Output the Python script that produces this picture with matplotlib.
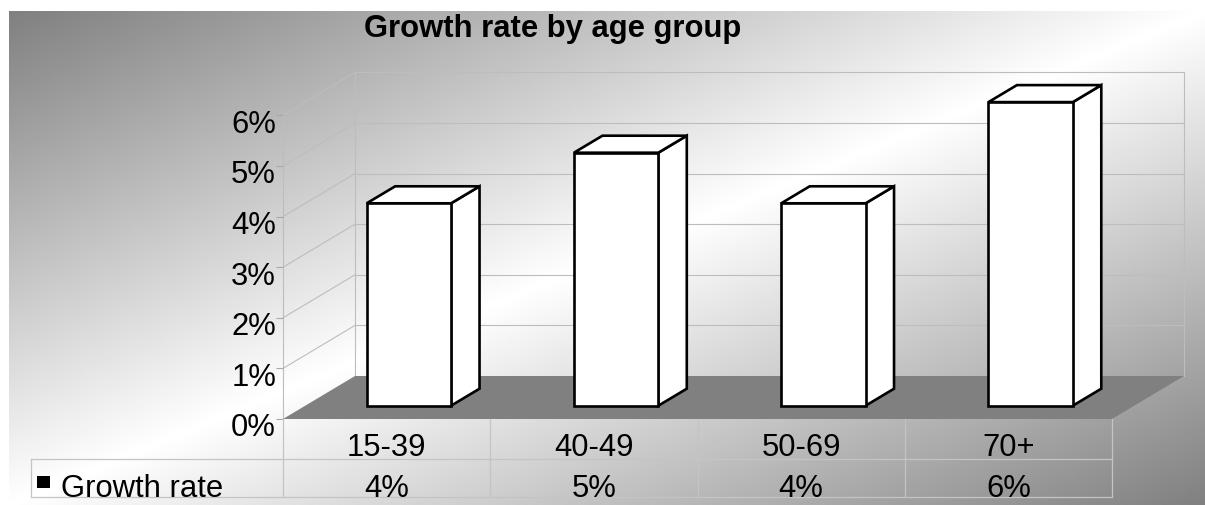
import numpy as np
import matplotlib
matplotlib.use('Agg')
import matplotlib.pyplot as plt
from matplotlib.patches import Polygon, Rectangle
from matplotlib.transforms import ScaledTranslation

# ---------------- data ----------------
categories = ["15-39", "40-49", "50-69", "70+"]
growth_rate = [4, 5, 4, 6]
series_name = "Growth rate"
title = "Growth rate by age group"
y_ticks = [0, 1, 2, 3, 4, 5, 6]
y_tick_labels = ["0%", "1%", "2%", "3%", "4%", "5%", "6%"]
value_labels = [f"{v}%" for v in growth_rate]

plt.rcParams['font.family'] = ['Liberation Sans', 'DejaVu Sans']
FS = 22.3

W, H = 1205, 506
fig = plt.figure(figsize=(W / 100, H / 100), dpi=100)
fig.patch.set_facecolor('white')

# ---------------- background gradient ----------------
bg = fig.add_axes([0, 0, 1, 1], zorder=-10)
bg.set_xlim(0, W)
bg.set_ylim(H, 0)
bg.axis('off')
u = np.linspace(0, 1, 800)
v = np.linspace(0, 1, 400)
U, V = np.meshgrid(u, v)
t = (U + V) / 2
g = (128 + 127 * (1 - np.abs(2 * t - 1))) / 255
bg.imshow(g, cmap='gray', vmin=0, vmax=1, extent=(9, W, H, 12),
          aspect='auto', interpolation='bilinear')

# ---------------- main (front plane) axes ----------------
FX0, FX1, FY0, FYT = 283, 1112, 420, 116.4
ax = fig.add_axes([FX0 / W, 1 - FY0 / H, (FX1 - FX0) / W, (FY0 - FYT) / H])
n = len(categories)
ymax = max(y_ticks)
ax.set_xlim(-0.5, n - 0.5)
ax.set_ylim(0, ymax)
ax.patch.set_visible(False)
for s in ax.spines.values():
    s.set_visible(False)
ax.set_xticks([])
ax.set_yticks(y_ticks)
ax.set_yticklabels([])
ax.tick_params(axis='y', length=5, width=0.8, color='#a8a8a8')

inv = ax.transData.inverted()


def px2data(xp, yp):
    """figure pixel (top-left origin) -> data coords of ax"""
    return inv.transform((xp, H - yp))


o = px2data(0, 0)
DX, DY = px2data(72, -43) - o          # depth vector of the 3D box
F_FRONT, F_BACK = 13.3 / 43, 30.3 / 43  # bar depth position (fractions)
BW = 0.407                              # bar width (category units)

grid_c = '#bdbdbd'
kw = dict(clip_on=False, lw=0.8, color=grid_c)

# floor
ax.add_patch(Polygon([(-0.5, 0), (n - 0.5, 0), (n - 0.5 + DX, DY), (-0.5 + DX, DY)],
                     closed=True, fc='#808080', ec='none', clip_on=False, zorder=1))

# back wall grid + left wall grid
for k in y_ticks[1:]:
    ax.plot([-0.5 + DX, n - 0.5 + DX], [k + DY, k + DY], zorder=0.5, **kw)
    ax.plot([-0.5, -0.5 + DX], [k, k + DY], zorder=0.5, **kw)
ax.plot([-0.5, -0.5], [0, ymax], zorder=0.5, **kw)
ax.plot([-0.5 + DX, -0.5 + DX], [DY, ymax + DY], zorder=0.5, **kw)
ax.plot([n - 0.5 + DX, n - 0.5 + DX], [DY, ymax + DY], zorder=0.5, **kw)

# y labels
lab_tr = ax.transData + ScaledTranslation(-7 / 100, -16.5 / 100, fig.dpi_scale_trans)
for k, lab in zip(y_ticks, y_tick_labels):
    ax.text(-0.5, k, lab, ha='right', va='baseline', fontsize=FS,
            transform=lab_tr, clip_on=False)

# bars
ddx = (F_BACK - F_FRONT) * DX
for i, val in enumerate(growth_rate):
    xl = i - BW / 2 + F_FRONT * DX
    xr = xl + BW
    y0 = F_FRONT * DY
    y1 = F_BACK * DY
    style = dict(fc='white', ec='black', lw=1.9, joinstyle='miter',
                 clip_on=False, zorder=3 + i)
    ax.add_patch(Polygon([(xr, y0), (xr + ddx, y1), (xr + ddx, val + y1), (xr, val + y0)],
                         closed=True, **style))
    ax.add_patch(Polygon([(xl, val + y0), (xr, val + y0), (xr + ddx, val + y1),
                          (xl + ddx, val + y1)], closed=True, **style))
    ax.add_patch(Rectangle((xl, y0), BW, val, **style))

# ---------------- data table ----------------
tab_c = '#c4c4c4'
tkw = dict(clip_on=False, lw=0.9, color=tab_c, zorder=2)
hx = px2data(31, 0)[0]
y_mid = px2data(0, 460)[1]
y_bot = px2data(0, 498)[1]
ax.plot([hx, n - 0.5], [y_mid, y_mid], **tkw)
ax.plot([hx, n - 0.5], [y_bot, y_bot], **tkw)
ax.plot([hx, hx], [y_mid, y_bot], **tkw)
for j in range(n + 1):
    ax.plot([j - 0.5, j - 0.5], [0, y_bot], **tkw)

yb1 = px2data(0, 456)[1]
yb2 = px2data(0, 497)[1]
for i, (cat, vl) in enumerate(zip(categories, value_labels)):
    ax.text(i, yb1, cat, ha='center', va='baseline', fontsize=FS, clip_on=False)
    ax.text(i, yb2, vl, ha='center', va='baseline', fontsize=FS, clip_on=False)

# legend key + row label
sq0 = px2data(37, 489)
sq1 = px2data(50, 477)
ax.add_patch(Rectangle(tuple(sq0), sq1[0] - sq0[0], sq1[1] - sq0[1],
                       fc='black', ec='none', clip_on=False, zorder=3))
lx = px2data(61, 0)[0]
ax.text(lx, yb2, series_name, ha='left', va='baseline', fontsize=FS, clip_on=False)

# title
fig.text(552.5 / W, 1 - 36.7 / H, title, ha='center', va='baseline',
         fontsize=22.3, fontweight='bold')

fig.savefig('out.png', dpi=100)
